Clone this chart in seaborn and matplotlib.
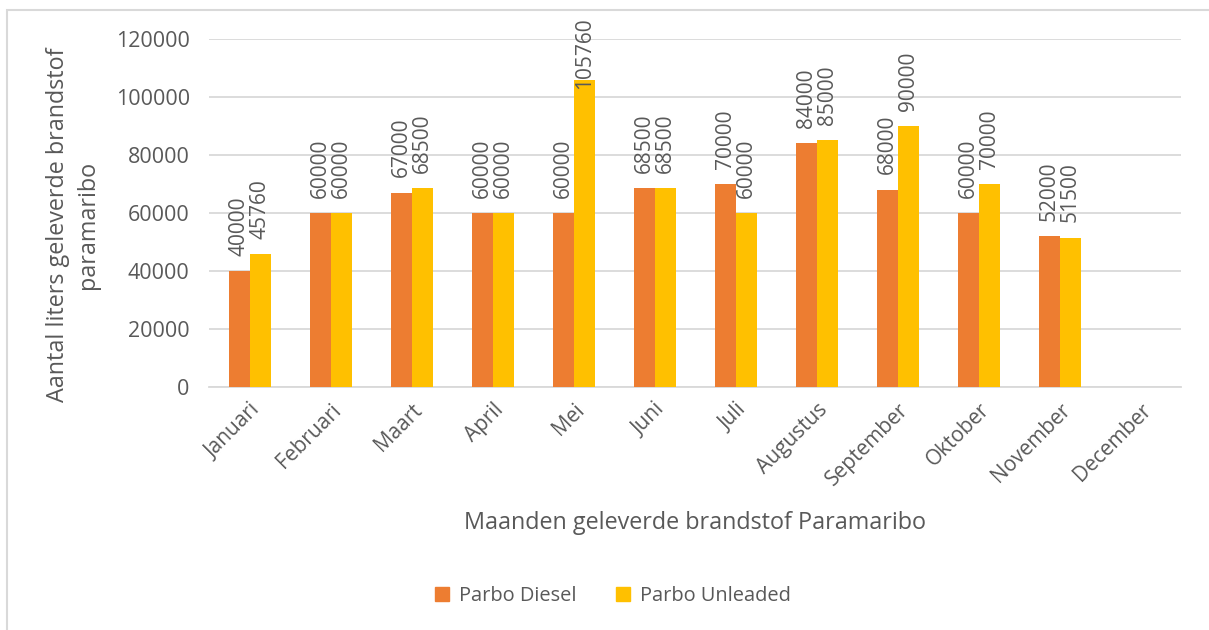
import matplotlib
matplotlib.use('Agg')
from matplotlib import pyplot as plt
from matplotlib.patches import Rectangle, Patch
import numpy as np
import pandas as pd
import seaborn as sns

sns.set_style('white')
plt.rcParams['font.family'] = ['Open Sans', 'DejaVu Sans']

months = ['Januari', 'Februari', 'Maart', 'April', 'Mei', 'Juni', 'Juli',
          'Augustus', 'September', 'Oktober', 'November', 'December']
diesel = [40000, 60000, 67000, 60000, 60000, 68500, 70000, 84000, 68000, 60000, 52000, np.nan]
unleaded = [45760, 60000, 68500, 60000, 105760, 68500, 60000, 85000, 90000, 70000, 51500, np.nan]
series = ['Parbo Diesel', 'Parbo Unleaded']
colors = ['#ED7D31', '#FFC000']
yticks = [0, 20000, 40000, 60000, 80000, 100000, 120000]

df = pd.DataFrame({
  'maand': months * 2,
  'serie': [series[0]] * 12 + [series[1]] * 12,
  'liters': diesel + unleaded,
})

txt = '#595959'
grid = '#D9D9D9'

fig = plt.figure(figsize=(12.09, 6.3), dpi=100)
ax = fig.add_axes([0.173, 0.386, 0.804, 0.552])

sns.barplot(data=df, x='maand', y='liters', hue='serie', order=months, hue_order=series,
            palette=colors, saturation=1, width=0.52, errorbar=None, legend=False, ax=ax,
            linewidth=0, zorder=3)

labels = []
for cont in ax.containers:
  vals = [b.get_height() for b in cont]
  labs = ['' if np.isnan(v) else f'{v:.0f}' for v in vals]
  labels += ax.bar_label(cont, labels=labs, rotation=90, padding=11, fontsize=15, color=txt)

ax.set_ylim(0, 120000)
ax.set_yticks(yticks)
ax.set_yticklabels([str(t) for t in yticks], fontsize=15.5, color=txt)
ax.set_xlim(-0.5, 11.5)
ax.yaxis.grid(True, color=grid, linewidth=1.3, zorder=0)
ax.set_axisbelow(True)
for s in ['top', 'right', 'left']:
  ax.spines[s].set_visible(False)
ax.spines['bottom'].set_color(grid)
ax.spines['bottom'].set_linewidth(1.3)
ax.tick_params(axis='y', length=0, pad=14)
plt.setp(ax.get_xticklabels(), rotation=45, ha='right', rotation_mode='anchor', fontsize=15, color=txt)
ax.tick_params(axis='x', length=0, pad=9)

ax.set_xlabel('Maanden geleverde brandstof Paramaribo', fontsize=16.8, color=txt, labelpad=15)
ax.set_ylabel('Aantal liters geleverde brandstof\nparamaribo', fontsize=16.8, color=txt,
              linespacing=1.35)
ax.yaxis.set_label_coords(-0.112, 0.466)

handles = [Patch(color=c, label=s) for c, s in zip(colors, series)]
fig.legend(handles=handles, loc='center', bbox_to_anchor=(0.507, 0.054), ncol=2, frameon=False,
           fontsize=14.4, labelcolor=txt, handlelength=0.7, handleheight=0.7, handletextpad=0.5,
           columnspacing=2.0)

fig.patches.append(Rectangle((7 / 1209, -0.02), 1.2, 0.02 + 620 / 630, transform=fig.transFigure,
                             fill=False, edgecolor=grid, linewidth=1.5))

# keep value labels inside the chart area (like Excel does)
fig.canvas.draw()
r = fig.canvas.get_renderer()
top_limit = fig.bbox.height - 17
for t in labels:
  bb = t.get_window_extent(r)
  if bb.y1 > top_limit:
    x, y = t.xyann
    t.xyann = (x, y - (bb.y1 - top_limit) * 72 / fig.dpi)

fig.savefig('out.png', dpi=100)
